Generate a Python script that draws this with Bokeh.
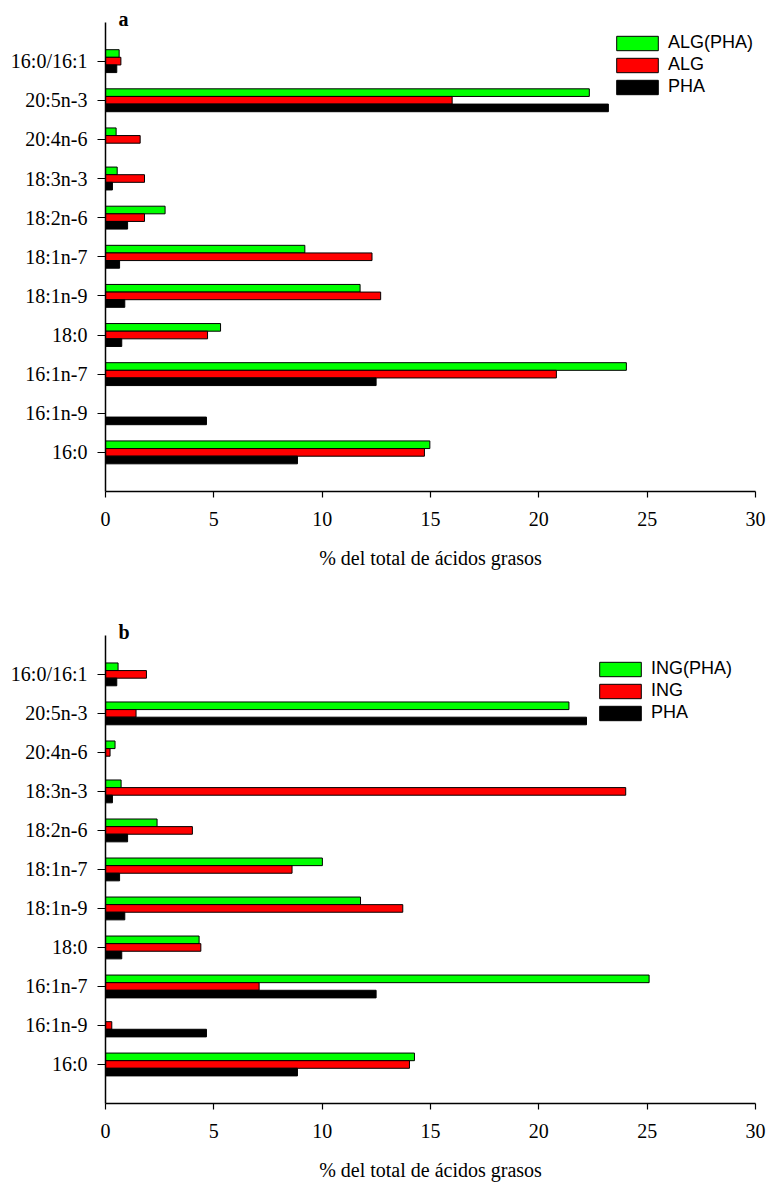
from bokeh.plotting import figure
from bokeh.models import Range1d, FixedTicker, Label, Legend, LegendItem, ColumnDataSource
from bokeh.layouts import column
from bokeh.embed import file_html
from bokeh.resources import INLINE

# Fatty acids, listed top to bottom as they appear on the axis
categories = ["16:0/16:1", "20:5n-3", "20:4n-6", "18:3n-3", "18:2n-6",
              "18:1n-7", "18:1n-9", "18:0", "16:1n-7", "16:1n-9", "16:0"]

# Panel a: algae diet
alg_pha = [0.63, 22.33, 0.49, 0.54, 2.75, 9.2, 11.75, 5.31, 24.04, 0.0, 14.97]
alg = [0.71, 16.0, 1.6, 1.8, 1.8, 12.3, 12.7, 4.71, 20.81, 0.0, 14.72]
pha_a = [0.52, 23.21, 0.0, 0.32, 1.02, 0.65, 0.89, 0.75, 12.49, 4.66, 8.86]

# Panel b: inert diet
ing_pha = [0.58, 21.39, 0.44, 0.72, 2.38, 10.01, 11.77, 4.32, 25.09, 0.0, 14.26]
ing = [1.89, 1.41, 0.21, 24.01, 4.01, 8.61, 13.72, 4.4, 7.09, 0.29, 14.03]
pha_b = [0.52, 22.2, 0.0, 0.32, 1.02, 0.65, 0.89, 0.75, 12.49, 4.66, 8.86]

x_ticks = [0, 5, 10, 15, 20, 25, 30]
x_title = "% del total de ácidos grasos"

GREEN = "#00FF00"
RED = "#FF0000"
BLACK = "#000000"
SERIF = "Liberation Serif"
SANS = "Liberation Sans"
BAR_H = 0.195


def panel(tag, series, height, y_top, bottom, legend_xy):
    n = len(categories)
    pos = [n - i for i in range(n)]
    # the frame reaches above the last slot so the panel letter has room;
    # the y axis line itself stops at n + 1
    p = figure(width=771, height=height, output_backend="svg", toolbar_location=None,
               x_range=Range1d(0, 30), y_range=Range1d(0, y_top),
               min_border_left=105, min_border_right=16,
               min_border_top=0, min_border_bottom=bottom)
    p.outline_line_color = None
    p.background_fill_color = "white"
    p.border_fill_color = "white"
    p.xgrid.visible = False
    p.ygrid.visible = False

    items = []
    for (label, vals, color), off in zip(series, [BAR_H, 0.0, -BAR_H]):
        ys = [y + off for y, v in zip(pos, vals) if v > 0]
        xs = [v for v in vals if v > 0]
        src = ColumnDataSource(dict(y=ys, right=xs))
        r = p.hbar(y="y", left=0, right="right", height=BAR_H, source=src,
                   fill_color=color, line_color="black", line_width=1)
        items.append(LegendItem(label=label, renderers=[r]))

    leg = Legend(items=items, location=legend_xy, padding=0, margin=0, spacing=1,
                 glyph_width=52, glyph_height=18, label_standoff=5,
                 label_text_font=SANS, label_text_font_size="18px",
                 label_text_color="black",
                 background_fill_alpha=0, border_line_color=None)
    p.add_layout(leg, "center")

    xa = p.xaxis[0]
    xa.ticker = FixedTicker(ticks=x_ticks)
    xa.minor_tick_line_color = None
    xa.major_tick_in = 0
    xa.major_tick_out = 6
    xa.major_label_standoff = 14
    xa.axis_label = x_title
    xa.axis_label_standoff = 18
    xa.axis_label_text_font = SERIF
    xa.axis_label_text_font_style = "normal"
    xa.axis_label_text_font_size = "20px"
    xa.axis_label_text_color = "black"

    ya = p.yaxis[0]
    ya.ticker = FixedTicker(ticks=pos)
    ya.bounds = (0, n + 1)
    ya.major_label_overrides = {y: c for y, c in zip(pos, categories)}
    ya.minor_tick_line_color = None
    ya.major_tick_in = 0
    ya.major_tick_out = 8
    ya.major_label_standoff = 10

    for ax in (xa, ya):
        ax.axis_line_color = "black"
        ax.axis_line_width = 1.5
        ax.major_tick_line_color = "black"
        ax.major_tick_line_width = 1.2
        ax.major_label_text_font = SERIF
        ax.major_label_text_font_size = "20px"
        ax.major_label_text_color = "black"

    p.add_layout(Label(x=0, y=n + 1, x_offset=13, y_offset=3, text=tag,
                       text_font=SERIF, text_font_style="bold",
                       text_font_size="20px", text_color="black",
                       text_baseline="alphabetic"))
    return p


pa = panel("a", [("ALG(PHA)", alg_pha, GREEN), ("ALG", alg, RED), ("PHA", pha_a, BLACK)],
           590, 12.55, 99, (506, 394))
pb = panel("b", [("ING(PHA)", ing_pha, GREEN), ("ING", ing, RED), ("PHA", pha_b, BLACK)],
           594, 13.15, 81, (489, 380))

layout = column(pa, pb, spacing=0)
open("out.html", "w").write(file_html(layout, INLINE))
